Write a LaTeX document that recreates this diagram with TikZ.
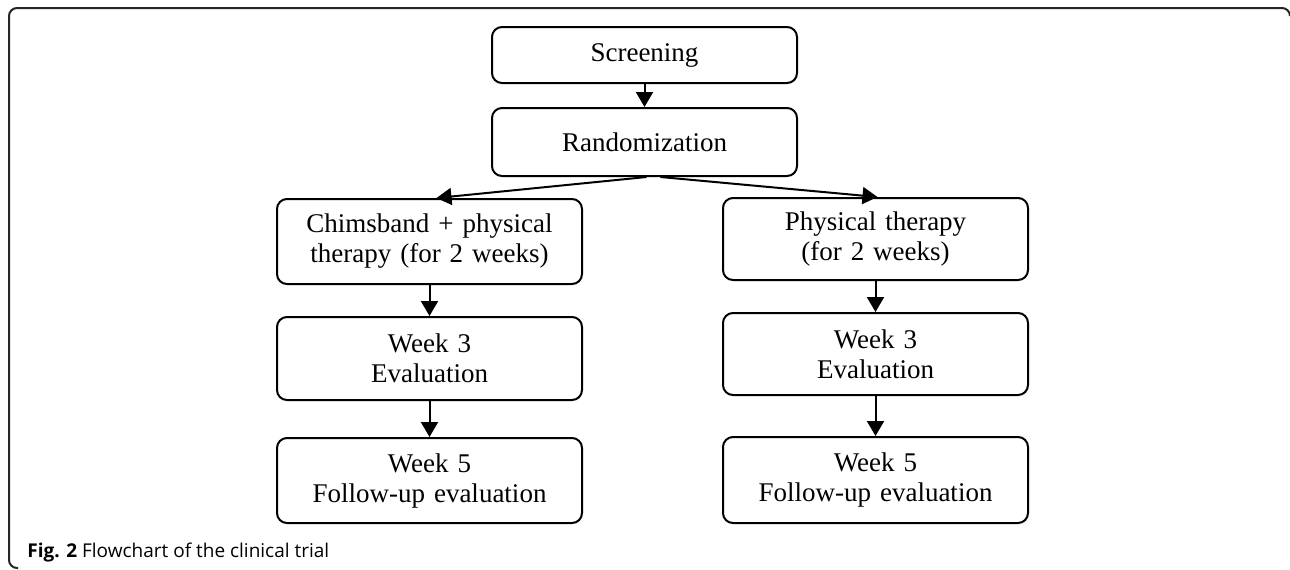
\documentclass[tikz,border=0pt]{standalone}
\usepackage{fontspec}
\setmainfont{Liberation Serif}
\newfontfamily\capfont{Open Sans}
\usetikzlibrary{arrows.meta}
\begin{document}
\begin{tikzpicture}[x=0.5pt,y=-0.5pt,
  box/.style={draw, line width=1pt, rounded corners=5pt, align=center,
    font=\fontsize{13.5}{15}\selectfont, inner sep=0pt, text width=150pt,
    minimum width=152.5pt},
  arr/.style={line width=1pt, -{Triangle[length=7.5pt,width=8.5pt]}},
  frame/.style={line width=1pt, black!85, rounded corners=4pt}]
\useasboundingbox (0,0) rectangle (1290,569);
\draw[frame] (1290,14) -- (1290,8) -- (9,8) -- (9,568) -- (18,568);
\node[box, minimum height=28pt] (scr) at (644.5,55) {Screening};
\node[box, minimum height=34pt] (rand) at (644.5,142) {Randomization};
\node[box, minimum height=42.5pt] (chim) at (429.5,241.5) {Chimsband + physical\\therapy (for 2 weeks)};
\node[box, minimum height=41.5pt] (lw3) at (429.5,358.5) {Week 3\\Evaluation};
\node[box, minimum height=42.5pt] (lw5) at (429.5,480.5) {Week 5\\Follow-up evaluation};
\node[box, minimum height=41pt] (phys) at (875.5,239) {Physical therapy\\(for 2 weeks)};
\node[box, minimum height=41pt] (rw3) at (875.5,354) {Week 3\\Evaluation};
\node[box, minimum height=43pt] (rw5) at (875.5,480) {Week 5\\Follow-up evaluation};
\draw[arr] (scr) -- (rand);
\draw[arr] ([xshift=1pt]rand.south) -- ([xshift=3.5pt]chim.north);
\draw[arr] ([xshift=8pt]rand.south) -- ([xshift=1pt]phys.north);
\draw[arr] (chim) -- (lw3);
\draw[arr] (lw3) -- (lw5);
\draw[arr] (phys) -- (rw3);
\draw[arr] (rw3) -- (rw5);
\node[anchor=base west, inner sep=0pt, font=\capfont\fontsize{9.5}{11}\selectfont] (cap) at (27,557)
  {\textbf{Fig. 2} Flowchart of the clinical trial};
\end{tikzpicture}
\end{document}
